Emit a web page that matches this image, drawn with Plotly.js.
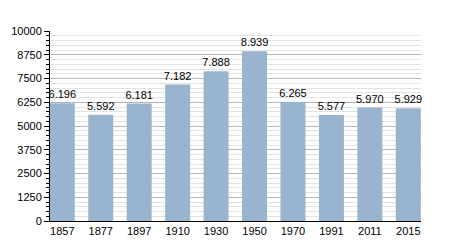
<!DOCTYPE html>
<html><head><meta charset="utf-8">
<script src="https://cdn.plot.ly/plotly-3.0.1.min.js"></script>
<style>html,body{margin:0;padding:0;background:#fff}</style>
</head><body>
<div id="chart" style="width:450px;height:250px"></div>
<script>
const years = ["1857","1877","1897","1910","1930","1950","1970","1991","2011","2015"];
const population = [6196, 5592, 6181, 7182, 7888, 8939, 6265, 5577, 5970, 5929];
const valueLabels = ["6.196","5.592","6.181","7.182","7.888","8.939","6.265","5.577","5.970","5.929"];
const yTicks = [0,1250,2500,3750,5000,6250,7500,8750,10000];

Plotly.newPlot('chart', [{
  type: 'bar',
  x: years,
  y: population,
  text: valueLabels,
  textposition: 'outside',
  constraintext: 'none',
  textfont: {family: 'Liberation Sans, Arial, sans-serif', size: 11, color: '#000'},
  cliponaxis: false,
  width: 0.65,
  marker: {color: '#99b4cf', line: {width: 0}},
  hoverinfo: 'none'
}], {
  width: 450, height: 250,
  margin: {l: 50, r: 29, t: 31, b: 29},
  paper_bgcolor: '#fff', plot_bgcolor: '#fff',
  showlegend: false,
  font: {family: 'Liberation Sans, Arial, sans-serif', size: 11, color: '#000'},
  xaxis: {
    type: 'category',
    range: [-0.32, 9.33],
    showline: true, linecolor: '#000', linewidth: 1,
    ticks: '', showgrid: false, zeroline: false,
    tickfont: {size: 11}
  },
  yaxis: {
    range: [0, 10000],
    tickvals: yTicks,
    ticktext: yTicks.map(String),
    showline: true, linecolor: '#000', linewidth: 1,
    ticks: 'outside', ticklen: 5, tickcolor: '#000',
    showgrid: true, gridcolor: '#b5b5b5', gridwidth: 1,
    zeroline: false,
    minor: {dtick: 250, ticks: 'outside', ticklen: 3, tickcolor: '#000', showgrid: true, gridcolor: '#e3e3e3', gridwidth: 1},
    tickfont: {size: 11}
  }
}, {staticPlot: true, displayModeBar: false});
</script>
</body></html>
